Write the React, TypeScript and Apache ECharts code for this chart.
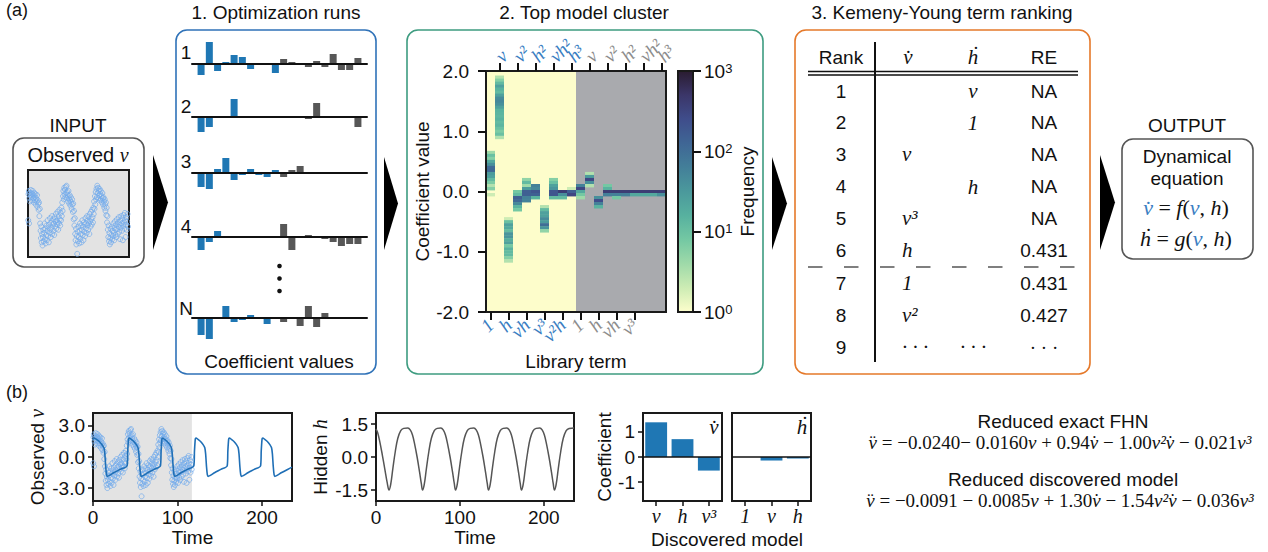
import React, { useEffect, useRef } from 'react';
import * as echarts from 'echarts';

const SANS = '"Liberation Sans", Arial, Helvetica, sans-serif';
const SERIF = '"Liberation Serif", "Times New Roman", serif';
const NB = '\u00a0';
const INK = '#111111';
const BAR_BLUE = '#1f77b4';
const BAR_GRAY = '#575757';
const TERM_BLUE = '#3a7ec2';
const TERM_GRAY = '#8d8d8d';
const PT_BLUE = '#74abeb';
const LINE_BLUE = '#1f6fb6';
const VDOT = 'v\u0307';
const HDOT = '\u1E23';
const VDDOT = 'v\u0308';

// ---------- Panel 1: optimization runs (20 coefficients: 10 for v̇, 10 for ḣ)
const runNames = ['1', '2', '3', '4', 'N'];
const run1 = [-11, 22, -7, 2, 9, 7, -5, 0, 0, -9, 5, 2, 0, -3, 3, -3, 10, -6, -6, 6];
const run2 = [-15, -10, 0, 0, 18, 0, 0, 0, 0, 0, 0, 0, 0, -2, 14, 0, 0, 0, 1, -10];
const run3 = [-14, -16, 4, 15, -7, -2, 4, -2, -4, 3, -4, 3, 7, 0, 0, 0, 0, 0, 0, 0];
const run4 = [-13, -5, 6, 0, 0, 0, 0, 0, 0, 0, 13, -13, 0, 2, 0, -2, -5, -9, -7, -7];
const runN = [-17, -21, 0, 12, -4, -2, 3, 0, -6, 0, -4, 0, -8, 12, -9, 5, 0, 0, 0, 0];

// ---------- Panel 2: top model cluster (coefficient bin centre, frequency)
const libraryTerms = ['1', 'v', 'h', 'v²', 'vh', 'h²', 'v³', 'vh²', 'v²h', 'h³'];
const hmVdot = [
  [[0.65, 4], [0.6, 10], [0.55, 6], [0.5, 20], [0.45, 40], [0.4, 110], [0.35, 120], [0.3, 30], [0.25, 25], [0.2, 12], [0.15, 7], [0.1, 3], [0.05, 6], [-0.05, 2]],
  [[1.9, 3], [1.85, 6], [1.8, 12], [1.75, 25], [1.7, 15], [1.65, 12], [1.6, 25], [1.55, 45], [1.5, 50], [1.45, 40], [1.4, 25], [1.35, 15], [1.3, 14], [1.25, 13], [1.2, 15], [1.15, 12], [1.1, 14], [1.05, 10], [1.0, 7], [0.95, 10], [0.9, 3]],
  [[-0.45, 2], [-0.5, 10], [-0.55, 25], [-0.6, 20], [-0.65, 12], [-0.7, 35], [-0.75, 35], [-0.8, 18], [-0.85, 25], [-0.9, 8], [-0.95, 15], [-1.0, 12], [-1.05, 12], [-1.1, 6], [-1.15, 3]],
  [[0.0, 8], [-0.05, 12], [-0.1, 150], [-0.15, 120], [-0.2, 50], [-0.25, 15], [-0.3, 8]],
  [[0.2, 5], [0.15, 12], [0.1, 4], [0.05, 30], [0.0, 150], [-0.05, 150], [-0.1, 60], [-0.15, 60]],
  [[0.1, 60], [0.05, 50], [0.0, 200], [-0.05, 150], [-0.1, 15]],
  [[-0.25, 3], [-0.3, 12], [-0.35, 25], [-0.4, 25], [-0.45, 45], [-0.5, 30], [-0.55, 100], [-0.6, 35], [-0.65, 5]],
  [[0.2, 6], [0.15, 10], [0.1, 25], [0.05, 35], [0.0, 200], [-0.05, 200], [-0.1, 12]],
  [[0.0, 400], [-0.05, 40], [-0.1, 12]],
  [[0.05, 2], [0.0, 150], [-0.05, 300]],
];
const hmHdot = [
  [[0.1, 60], [0.05, 300], [0.0, 20], [-0.05, 8], [-0.1, 4]],
  [[0.3, 3], [0.25, 30], [0.2, 300], [0.15, 40], [0.1, 3]],
  [[-0.1, 40], [-0.15, 250], [-0.2, 60], [-0.25, 15]],
  [[0.1, 8], [0.05, 15], [0.0, 400], [-0.05, 60]],
  [[0.0, 400], [-0.05, 60], [-0.1, 8]],
  [[0.0, 400], [-0.05, 60]],
  [[0.0, 400], [-0.05, 20]],
  [[0.0, 400], [-0.05, 20]],
  [[0.0, 400], [-0.05, 20]],
  [[0.0, 400], [-0.05, 40]],
];
const BIN = 0.05;
const CMAP = ['#fdfecc', '#cdecb4', '#9fdaa9', '#74c8a3', '#57b19f', '#4b999c', '#437f99', '#3f6695', '#3f4d8b', '#3b3669', '#2a1c30'];

// ---------- Panel 3: Kemeny-Young ranking
const ranks = ['1', '2', '3', '4', '5', '6', '7', '8', '9'];
const DOTS = '·' + NB + '·' + NB + '·';
const rankVdot = ['', '', 'v', '', 'v³', 'h', '1', 'v²', DOTS];
const rankHdot = ['v', '1', '', 'h', '', '', '', '', DOTS];
const rankRE = ['NA', 'NA', 'NA', 'NA', 'NA', '0.431', '0.431', '0.427', DOTS];

// ---------- Panel b: time series
const observedV = [
  [0.3, -0.6], [0.6, 1.9], [1.0, 2.2], [1.2, -0.9], [1.6, 1.5], [2.0, 2.0], [2.4, 1.2], [2.9, 1.8], [3.3, 2.3], [3.8, 1.6], [4.2, 2.0], [4.7, 1.3], [5.1, 1.9], [5.6, 2.2], [6.0, 1.5], [6.5, 1.8], [7.0, 1.1], [7.4, 2.0], [7.9, 1.6], [8.3, 1.3], [8.8, 1.9], [9.2, 0.9], [9.7, 1.5], [10.1, 1.2], [10.6, 1.8], [11.0, 0.7], [11.5, 1.3], [12.0, 1.0], [12.4, 0.4], [12.9, 1.1], [13.3, -0.2], [13.8, 0.5], [14.2, -0.9], [14.7, -1.6], [15.1, -2.3], [15.6, -1.2], [16.0, -2.7], [16.5, -1.9], [17.0, -3.0], [17.4, -2.2], [17.9, -1.5], [18.3, -2.6], [18.8, -1.8], [19.3, -0.9], [19.7, -2.4], [20.2, -1.4], [20.6, -2.8], [21.1, -2.0], [21.5, -1.1], [22.0, -2.5], [22.5, -1.6], [22.9, -0.6], [23.4, -2.1], [23.8, -1.3], [24.3, -2.7], [24.8, -1.0], [25.2, -1.8], [25.7, -0.4], [26.1, -1.5], [26.6, -2.2], [27.1, -0.8], [27.5, -1.3], [28.0, -0.2], [28.4, -1.9], [28.9, -1.0], [29.4, -0.5], [29.8, -1.6], [30.3, -0.9], [30.7, -2.0], [31.2, -0.3], [31.7, -1.2], [32.1, -0.7], [32.6, 0.0], [33.0, -1.4], [33.5, -0.6], [34.0, -1.0], [34.4, 0.2], [34.9, -0.8], [35.3, -1.5], [35.8, -0.2], [36.3, -0.9], [36.7, 0.4], [37.2, -0.5], [37.6, -1.1], [38.1, 0.1], [38.6, -0.6], [39.0, 0.6], [39.5, -0.2],
  [40.0, 1.1], [40.4, 0.3], [40.9, 1.7], [41.3, 2.2], [41.8, 1.4], [42.3, 2.5], [42.7, 1.9], [43.2, 2.3], [43.6, 1.6], [44.1, 2.6], [44.6, 2.0], [45.0, 2.7], [45.5, 1.5], [45.9, 2.1], [46.4, 1.8], [46.9, 1.2], [47.3, 2.2], [47.8, 1.5], [48.2, 1.0], [48.7, 1.8], [49.2, 1.3], [49.6, 0.8], [50.1, 1.6], [50.5, 1.1], [51.0, 0.5], [51.5, 1.4], [51.9, 0.9], [52.4, 0.2], [52.8, 1.0], [53.3, -0.5], [53.8, 0.3], [54.2, -1.1], [54.7, -0.4], [55.1, -1.9], [55.6, -2.5], [56.1, -1.4], [56.5, -2.9], [57.0, -2.1], [57.5, -3.8], [57.9, -1.7], [58.4, -2.6], [58.8, -1.2], [59.3, -2.2], [59.8, -2.8], [60.2, -1.6], [60.7, -0.9], [61.1, -2.4], [61.6, -1.9], [62.1, -1.1], [62.5, -2.7], [63.0, -1.5], [63.4, -0.6], [63.9, -2.0], [64.4, -1.2], [64.8, -2.5], [65.3, -0.8], [65.7, -1.7], [66.2, -1.0], [66.7, -2.1], [67.1, -0.4], [67.6, -1.4], [68.0, -0.9], [68.5, -1.8], [69.0, -0.2], [69.4, -1.1], [69.9, -0.6], [70.3, -1.5], [70.8, -0.3], [71.3, -0.9], [71.7, -1.9], [72.2, 0.0], [72.6, -0.7], [73.1, -1.2], [73.6, 0.2], [74.0, -0.5], [74.5, -1.0], [74.9, 0.4], [75.4, -0.3], [75.9, -0.8], [76.3, 0.6], [76.8, 0.0], [77.2, 1.2], [77.7, 0.5], [78.2, 1.7], [78.6, 0.9], [79.1, 2.1], [79.5, 1.4],
  [80.0, 2.4], [80.4, 1.6], [80.9, 2.7], [81.3, 2.0], [81.8, 2.5], [82.3, 1.5], [82.7, 2.2], [83.2, 1.8], [83.6, 2.4], [84.1, 1.3], [84.6, 1.9], [85.0, 2.2], [85.5, 1.4], [85.9, 1.7], [86.4, 1.1], [86.9, 2.0], [87.3, 1.5], [87.8, 0.9], [88.2, 1.6], [88.7, 1.2], [89.2, 0.6], [89.6, 1.4], [90.1, 0.9], [90.5, 0.3], [91.0, 1.1], [91.5, -0.1], [91.9, 0.6], [92.4, -0.8], [92.8, -0.2], [93.3, -1.5], [93.8, -2.2], [94.2, -1.1], [94.7, -2.6], [95.1, -1.8], [95.6, -2.9], [96.1, -2.3], [96.5, -1.4], [97.0, -2.7], [97.4, -2.0], [97.9, -1.2], [98.4, -2.4], [98.8, -1.6], [99.3, -2.1], [99.7, -0.9], [100.2, -1.8], [100.7, -2.5], [101.1, -1.3], [101.6, -0.7], [102.0, -2.0], [102.5, -1.5], [103.0, -1.0], [103.4, -2.2], [103.9, -0.5], [104.3, -1.4], [104.8, -1.9], [105.3, -0.8], [105.7, -1.2], [106.2, -0.3], [106.6, -1.7], [107.1, -1.0], [107.6, -2.4], [108.0, -0.6], [108.5, -1.3], [108.9, -0.2], [109.4, -0.9], [109.9, -1.6], [110.3, -0.4], [110.8, -2.5], [111.2, -1.1], [111.7, -0.1], [112.2, -0.8], [112.6, -1.4], [113.1, 0.1], [113.5, -0.6], [114.0, -2.2], [114.5, -1.0], [114.9, -0.3], [115.4, -1.5], [115.8, -0.7], [116.3, 0.0], [116.8, -1.2],
];
const fitV = [
  [0, 1.7], [1.5, 1.84], [4, 1.7], [7.5, 1.5], [10.5, 1.2], [13, 0.9], [14, 0.3], [15, -0.9], [16, -1.7], [17, -1.87], [19, -1.8], [25, -1.5], [32, -1.2], [40.3, -0.85],
  [41.1, 0.6], [42.1, 1.75], [42.9, 1.84], [45.3, 1.7], [48.3, 1.5], [51.3, 1.2], [53.3, 0.9], [54.3, 0.3], [55.3, -0.9], [56.3, -1.7], [57.3, -1.87], [59.3, -1.8], [65.3, -1.5], [72.3, -1.2], [79.8, -0.85],
  [80.6, 0.6], [81.6, 1.75], [82.4, 1.84], [84.8, 1.7], [87.8, 1.5], [90.8, 1.2], [92.8, 0.9], [93.8, 0.3], [94.8, -0.9], [95.8, -1.7], [96.8, -1.87], [98.8, -1.8], [104.8, -1.5], [111.8, -1.2], [119.3, -0.85],
  [120.1, 0.6], [121.1, 1.75], [121.9, 1.84], [124.3, 1.7], [127.3, 1.5], [130.3, 1.2], [132.3, 0.9], [133.3, 0.3], [134.3, -0.9], [135.3, -1.7], [136.3, -1.87], [138.3, -1.8], [144.3, -1.5], [151.3, -1.2], [158.8, -0.85],
  [159.6, 0.6], [160.6, 1.75], [161.4, 1.84], [163.8, 1.7], [166.8, 1.5], [169.8, 1.2], [171.8, 0.9], [172.8, 0.3], [173.8, -0.9], [174.8, -1.7], [175.8, -1.87], [177.8, -1.8], [183.8, -1.5], [190.8, -1.2], [198.3, -0.85],
  [199.1, 0.6], [200.1, 1.75], [200.9, 1.84], [203.3, 1.7], [206.3, 1.5], [209.3, 1.2], [211.3, 0.9], [212.3, 0.3], [213.3, -0.9], [214.3, -1.7], [215.3, -1.87], [217.3, -1.8], [223.3, -1.5], [230.3, -1.2], [235.5, -0.98],
];
const hiddenH = [
  [0, 1.28], [2, 1.1], [4.5, 0.7], [7.5, 0.1], [10.5, -0.55], [13.5, -1.2], [15.5, -1.5], [17.5, -1.25], [20, -0.55], [23, 0.25], [26, 0.85], [29.5, 1.2], [33, 1.3],
  [38, 1.32], [41, 1.22], [43.5, 1.0], [46, 0.6], [49, 0.0], [52, -0.7], [54, -1.2], [55.5, -1.5], [57.5, -1.25], [60, -0.55], [63, 0.25], [66, 0.85], [69.5, 1.2], [73, 1.3],
  [77.3, 1.32], [80.3, 1.22], [82.8, 1.0], [85.3, 0.6], [88.3, 0.0], [91.3, -0.7], [93.3, -1.2], [94.8, -1.5], [96.8, -1.25], [99.3, -0.55], [102.3, 0.25], [105.3, 0.85], [108.8, 1.2], [112.3, 1.3],
  [116.6, 1.32], [119.6, 1.22], [122.1, 1.0], [124.6, 0.6], [127.6, 0.0], [130.6, -0.7], [132.6, -1.2], [134.1, -1.5], [136.1, -1.25], [138.6, -0.55], [141.6, 0.25], [144.6, 0.85], [148.1, 1.2], [151.6, 1.3],
  [155.9, 1.32], [158.9, 1.22], [161.4, 1.0], [163.9, 0.6], [166.9, 0.0], [169.9, -0.7], [171.9, -1.2], [173.4, -1.5], [175.4, -1.25], [177.9, -0.55], [180.9, 0.25], [183.9, 0.85], [187.4, 1.2], [190.9, 1.3],
  [195.2, 1.32], [198.2, 1.22], [200.7, 1.0], [203.2, 0.6], [206.2, 0.0], [209.2, -0.7], [211.2, -1.2], [212.7, -1.5], [214.7, -1.25], [217.2, -0.55], [220.2, 0.25], [223.2, 0.85], [226.7, 1.2], [230.2, 1.3], [236, 1.32],
];
const trainingWindow = [0, 117];
const timeTicks = [0, 100, 200];
const vTicks = [-3, 0, 3];
const hTicks = [-1.5, 0, 1.5];
const coefTicks = [-1, 0, 1];
const vdotTerms = ['v', 'h', 'v³'];
const vdotCoefs = [1.38, 0.71, -0.54];
const hdotTerms = ['1', 'v', 'h'];
const hdotCoefs = [0, -0.14, -0.06];

const eqTitles = ['Reduced exact FHN', 'Reduced discovered model'];
const eqExact: [string, string][] = [['i', VDDOT], ['r', ' = −0.0240− 0.0160'], ['i', 'v'], ['r', ' + 0.94'], ['i', VDOT], ['r', ' − 1.00'], ['i', 'v²' + VDOT], ['r', ' − 0.021'], ['i', 'v³']];
const eqDiscovered: [string, string][] = [['i', VDDOT], ['r', ' = −0.0091 − 0.0085'], ['i', 'v'], ['r', ' + 1.30'], ['i', VDOT], ['r', ' − 1.54'], ['i', 'v²' + VDOT], ['r', ' − 0.036'], ['i', 'v³']];

// ---------- helpers
function rich(tokens: [string, string][]) {
  return tokens.map(([k, t]) => `{${k}|${t.replace(/ /g, NB)}}`).join('');
}
function mathRich(size: number) {
  return {
    r: { fontFamily: SERIF, fontSize: size, fill: INK, color: INK },
    i: { fontFamily: SERIF, fontStyle: 'italic', fontSize: size, fill: INK, color: INK },
    b: { fontFamily: SERIF, fontStyle: 'italic', fontSize: size, fill: TERM_BLUE, color: TERM_BLUE },
    s: { fontFamily: SANS, fontSize: size, fill: INK, color: INK },
  };
}
function txt(x: number, y: number, text: string, o: any = {}) {
  const align = o.align || 'center';
  return {
    type: 'text', x, y, silent: true, z: 10, rotation: o.rotation || 0,
    style: {
      text, fontFamily: o.family || SANS, fontSize: o.size || 19, fontStyle: o.style || 'normal',
      fill: o.color || INK, align, textAlign: align, verticalAlign: 'middle', textVerticalAlign: 'middle',
      rich: o.rich,
    },
  };
}
function box(x: number, y: number, w: number, h: number, color: string) {
  return { type: 'rect', silent: true, shape: { x, y, width: w, height: h, r: 11 }, style: { fill: 'none', stroke: color, lineWidth: 1.6 } };
}
function arrow(x: number, y0: number, y1: number, tip: number) {
  return { type: 'polygon', silent: true, shape: { points: [[x, y0], [tip, (y0 + y1) / 2], [x, y1]] }, style: { fill: '#000' } };
}
function hline(x1: number, x2: number, y: number, o: any = {}) {
  return { type: 'line', silent: true, shape: { x1, y1: y, x2, y2: y }, style: { stroke: o.color || INK, lineWidth: o.width || 1.5, lineDash: o.dash } };
}

const tickLine = { color: INK, width: 1.5 };
const sansLabel = { fontFamily: SANS, fontSize: 19, color: INK };
const noLine = { show: false, onZero: false };

// heatmap plot geometry
const HM = { left: 486, top: 71, width: 180, height: 241 };

function buildOption() {
  const grid: any[] = [];
  const xAxis: any[] = [];
  const yAxis: any[] = [];
  const series: any[] = [];

  // ---- runs
  const runRows = [run1, run2, run3, run4, runN];
  const runBase = [64, 117, 173, 237, 318];
  runRows.forEach((vals, i) => {
    grid.push({ left: 192, top: runBase[i] - 25, width: 175, height: 50 });
    xAxis.push({
      gridIndex: i, type: 'value', min: -1.1, max: 20.1, z: 5,
      axisLine: { show: true, onZero: true, lineStyle: { color: INK, width: 2 } },
      axisTick: { show: false }, axisLabel: { show: false }, splitLine: { show: false },
    });
    yAxis.push({ gridIndex: i, type: 'value', min: -25, max: 25, show: false, splitLine: { show: false } });
    series.push({
      type: 'bar', xAxisIndex: i, yAxisIndex: i, barWidth: 7, silent: true,
      data: vals.map((v, j) => ({ value: [j, v], itemStyle: { color: j < 10 ? BAR_BLUE : BAR_GRAY } })),
    });
  });

  // ---- heatmap (grid 5)
  const hmColumns = [...hmVdot, ...hmHdot];
  const catIds = hmColumns.map((_, i) => String(i));
  grid.push({ ...HM, show: true, borderColor: '#1a1a1a', borderWidth: 2 });
  const termRich = {
    b: { fontFamily: SERIF, fontStyle: 'italic', fontSize: 19, color: TERM_BLUE },
    g: { fontFamily: SERIF, fontStyle: 'italic', fontSize: 19, color: TERM_GRAY },
  };
  const termFmt = (val: string) => {
    const i = Number(val);
    return `{${i < 10 ? 'b' : 'g'}|${libraryTerms[i % 10]}}`;
  };
  xAxis.push({
    gridIndex: 5, type: 'category', data: catIds, position: 'bottom',
    axisLine: noLine,
    axisTick: { show: true, alignWithLabel: true, length: 8, interval: (i: number) => i % 2 === 0, lineStyle: { color: INK, width: 2 } },
    axisLabel: { interval: (i: number) => i % 2 === 0, rotate: 45, margin: 10, formatter: termFmt, rich: termRich },
    name: 'Library term', nameLocation: 'middle', nameGap: 40,
    nameTextStyle: { fontFamily: SANS, fontSize: 19, color: INK },
  });
  xAxis.push({
    gridIndex: 5, type: 'category', data: catIds, position: 'top',
    axisLine: noLine,
    axisTick: { show: true, alignWithLabel: true, length: 8, interval: (i: number) => i % 2 === 1, lineStyle: { color: INK, width: 2 } },
    axisLabel: { show: false },
  });
  yAxis.push({
    gridIndex: 5, type: 'value', min: -2, max: 2, interval: 1,
    axisLine: noLine, splitLine: { show: false },
    axisTick: { show: true, length: 8, lineStyle: { color: INK, width: 2 } },
    axisLabel: { ...sansLabel, fontSize: 19, margin: 17, formatter: (v: number) => v.toFixed(1) },
    name: 'Coefficient value', nameLocation: 'middle', nameGap: 53, nameRotate: 90,
    nameTextStyle: { fontFamily: SANS, fontSize: 19, color: INK },
  });
  series.push({
    type: 'custom', xAxisIndex: 5, yAxisIndex: 5, z: -2, silent: true,
    encode: { x: [0, 1], y: [2, 3] },
    data: [[0, 9, -2, 2, 0], [10, 19, -2, 2, 1]],
    renderItem: (_p: any, api: any) => {
      const w = api.size([1, 0])[0];
      const a = api.coord([api.value(0), api.value(3)]);
      const b = api.coord([api.value(1), api.value(2)]);
      return { type: 'rect', shape: { x: a[0] - w / 2, y: a[1], width: b[0] - a[0] + w, height: b[1] - a[1] }, style: { fill: api.value(4) === 0 ? '#fdfdcb' : '#a9aaae' } };
    },
  });
  const hmIndex = series.length;
  series.push({
    type: 'custom', xAxisIndex: 5, yAxisIndex: 5, z: -1, silent: true,
    encode: { x: 0, y: 1 },
    data: hmColumns.flatMap((col, ci) => col.map(([c, f]) => [ci, c, f, Math.log10(f)])),
    renderItem: (_p: any, api: any) => {
      const c = api.coord([api.value(0), api.value(1)]);
      const w = api.size([1, 0])[0];
      const h = api.size([0, BIN])[1];
      return { type: 'rect', shape: { x: c[0] - w / 2, y: c[1] - h / 2, width: w, height: h + 0.4 }, style: { fill: api.visual('color') } };
    },
  });

  // ---- colorbar (grid 6)
  grid.push({ left: 678, top: 71, width: 15, height: 241, show: true, borderColor: '#1a1a1a', borderWidth: 2 });
  xAxis.push({ gridIndex: 6, type: 'category', data: ['f'], show: false });
  yAxis.push({
    gridIndex: 6, type: 'log', min: 1, max: 1000, logBase: 10, position: 'right',
    axisLine: noLine, splitLine: { show: false },
    axisTick: { show: true, length: 8, lineStyle: { color: INK, width: 2 } },
    axisLabel: {
      ...sansLabel, margin: 11,
      formatter: (v: number) => `10{e|${Math.round(Math.log10(v))}}`,
      rich: { e: { fontFamily: SANS, fontSize: 13, color: INK, verticalAlign: 'top', padding: [0, 0, 6, 0] } },
    },
    name: 'Frequency', nameLocation: 'middle', nameGap: 45, nameRotate: 90,
    nameTextStyle: { fontFamily: SANS, fontSize: 19, color: INK },
  });
  series.push({
    type: 'custom', xAxisIndex: 7, yAxisIndex: 6, z: -1, silent: true,
    encode: { x: 0, y: [1, 2] },
    data: [[0, 1, 1000]],
    renderItem: (_p: any, api: any) => {
      const top = api.coord([0, api.value(2)]);
      const bot = api.coord([0, api.value(1)]);
      const w = api.size([1, 0])[0];
      return {
        type: 'rect', shape: { x: top[0] - w / 2, y: top[1], width: w, height: bot[1] - top[1] },
        style: { fill: { type: 'linear', x: 0, y: 1, x2: 0, y2: 0, colorStops: CMAP.map((col, i) => ({ offset: i / (CMAP.length - 1), color: col })) } },
      };
    },
  });

  // ---- INPUT thumbnail (grid 7)
  grid.push({ left: 28, top: 170, width: 101, height: 87, show: true, backgroundColor: '#e3e3e3', borderColor: '#1a1a1a', borderWidth: 2 });
  xAxis.push({ gridIndex: 7, type: 'value', min: 0, max: 118, show: false });
  yAxis.push({ gridIndex: 7, type: 'value', min: -4.1, max: 4.2, show: false, splitLine: { show: false } });
  series.push({
    type: 'scatter', xAxisIndex: 8, yAxisIndex: 7, silent: true, symbol: 'circle', symbolSize: 5,
    itemStyle: { color: 'rgba(0,0,0,0)', borderColor: PT_BLUE, borderWidth: 0.9 }, data: observedV,
  });

  // ---- observed v (grid 8)
  const timeAxis = (gi: number, max: number) => ({
    gridIndex: gi, type: 'value', min: 0, max,
    axisLine: noLine, splitLine: { show: false },
    axisTick: { show: true, length: 5, lineStyle: tickLine, customValues: timeTicks },
    axisLabel: { ...sansLabel, margin: 7, customValues: timeTicks },
    name: 'Time', nameLocation: 'middle', nameGap: 26,
    nameTextStyle: { fontFamily: SANS, fontSize: 19, color: INK },
  });
  const valAxis = (gi: number, lim: number, ticks: number[], fmt: any, name: any, gap: number) => ({
    gridIndex: gi, type: 'value', min: -lim, max: lim,
    axisLine: noLine, splitLine: { show: false },
    axisTick: { show: true, length: 5, lineStyle: tickLine, customValues: ticks },
    axisLabel: { ...sansLabel, margin: 8, customValues: ticks, formatter: fmt },
    name, nameLocation: 'middle', nameGap: gap, nameRotate: 90,
    nameTextStyle: { fontFamily: SANS, fontSize: 19, color: INK, rich: { s: { fontFamily: SANS, fontSize: 19, color: INK }, m: { fontFamily: SERIF, fontStyle: 'italic', fontSize: 20, color: INK } } },
  });
  grid.push({ left: 93, top: 413, width: 199, height: 88, show: true, borderColor: '#1a1a1a', borderWidth: 2 });
  xAxis.push(timeAxis(8, 235.5));
  yAxis.push(valAxis(8, 4.25, vTicks, (v: number) => v.toFixed(1), `{s|Observed${NB}}{m|v}`, 46));
  series.push({
    type: 'custom', xAxisIndex: 9, yAxisIndex: 8, z: -2, silent: true,
    encode: { x: [0, 1], y: [2, 3] },
    data: [[trainingWindow[0], trainingWindow[1], -4.25, 4.25]],
    renderItem: (_p: any, api: any) => {
      const a = api.coord([api.value(0), api.value(3)]);
      const b = api.coord([api.value(1), api.value(2)]);
      return { type: 'rect', shape: { x: a[0], y: a[1], width: b[0] - a[0], height: b[1] - a[1] }, style: { fill: '#e3e3e3' } };
    },
  });
  series.push({
    type: 'scatter', xAxisIndex: 9, yAxisIndex: 8, silent: true, symbol: 'circle', symbolSize: 5,
    itemStyle: { color: 'rgba(0,0,0,0)', borderColor: PT_BLUE, borderWidth: 0.9 }, data: observedV,
  });
  series.push({
    type: 'line', xAxisIndex: 9, yAxisIndex: 8, silent: true, showSymbol: false, smooth: 0.25,
    lineStyle: { color: LINE_BLUE, width: 1.6 }, data: fitV,
  });

  // ---- hidden h (grid 9)
  grid.push({ left: 376, top: 413, width: 198, height: 88, show: true, borderColor: '#1a1a1a', borderWidth: 2 });
  xAxis.push(timeAxis(9, 236));
  yAxis.push(valAxis(9, 2, hTicks, (v: number) => v.toFixed(1), `{s|Hidden${NB}}{m|h}`, 46));
  series.push({
    type: 'line', xAxisIndex: 10, yAxisIndex: 9, silent: true, showSymbol: false, smooth: 0.4,
    lineStyle: { color: '#555555', width: 1.5 }, data: hiddenH,
  });

  // ---- discovered model bars (grids 10, 11)
  const termAxis = (gi: number, terms: string[]) => ({
    gridIndex: gi, type: 'category', data: terms,
    axisLine: noLine,
    axisTick: { show: true, alignWithLabel: true, length: 5, lineStyle: tickLine },
    axisLabel: { fontFamily: SERIF, fontStyle: 'italic', fontSize: 20, color: INK, margin: 5, lineHeight: 20 },
  });
  grid.push({ left: 643, top: 413, width: 79, height: 88, show: true, borderColor: '#1a1a1a', borderWidth: 2 });
  grid.push({ left: 732, top: 413, width: 79, height: 88, show: true, borderColor: '#1a1a1a', borderWidth: 2 });
  xAxis.push(termAxis(10, vdotTerms));
  xAxis.push(termAxis(11, hdotTerms));
  yAxis.push(valAxis(10, 1.75, coefTicks, (v: number) => String(v), 'Coefficient', 27));
  yAxis.push({ gridIndex: 11, type: 'value', min: -1.75, max: 1.75, axisLine: noLine, axisTick: { show: false }, axisLabel: { show: false }, splitLine: { show: false } });
  const zeroLine = { silent: true, symbol: 'none', label: { show: false }, lineStyle: { color: INK, width: 1.5, type: 'solid' }, data: [{ yAxis: 0 }] };
  series.push({ type: 'bar', xAxisIndex: 11, yAxisIndex: 10, silent: true, barCategoryGap: '17%', itemStyle: { color: BAR_BLUE }, data: vdotCoefs, markLine: zeroLine });
  series.push({ type: 'bar', xAxisIndex: 12, yAxisIndex: 11, silent: true, barCategoryGap: '17%', itemStyle: { color: BAR_BLUE }, data: hdotCoefs, markLine: zeroLine });

  // ---- graphics
  const g: any[] = [];
  g.push(txt(6, 10, '(a)', { align: 'left', size: 18 }));
  g.push(txt(6, 392, '(b)', { align: 'left', size: 18 }));
  g.push(txt(276, 12, '1. Optimization runs'));
  g.push(txt(584, 12, '2. Top model cluster'));
  g.push(txt(942, 12, '3. Kemeny-Young term ranking'));

  // top-axis library term labels of the heatmap (odd columns), rotated 45°
  const colW = HM.width / hmColumns.length;
  hmColumns.forEach((_, i) => {
    if (i % 2 === 1) {
      g.push(txt(HM.left + colW * (i + 0.5) - 1, HM.top - 12, libraryTerms[i % 10], {
        family: SERIF, style: 'italic', size: 19, align: 'left', rotation: Math.PI / 4,
        color: i < 10 ? TERM_BLUE : TERM_GRAY,
      }));
    }
  });

  // input
  g.push(txt(78, 125, 'INPUT'));
  g.push(box(13, 138, 131, 129, '#555555'));
  g.push(txt(78, 155, `{s|Observed${NB}}{i|v}`, { rich: mathRich(20) }));
  g.push(arrow(153, 155, 250, 168));

  // runs
  g.push(box(176, 30, 200, 344, '#2f72b8'));
  runNames.forEach((n, i) => g.push(txt(186, [52, 106, 161, 226, 308][i], n)));
  [266, 278.5, 291].forEach((y) => g.push({ type: 'circle', silent: true, shape: { cx: 279.5, cy: y, r: 2.3 }, style: { fill: INK } }));
  g.push(txt(279, 361, 'Coefficient values'));
  g.push(arrow(384, 157, 250, 398));

  // heatmap panel
  g.push(box(407, 30, 356, 344, '#3e9c80'));
  g.push(arrow(772, 157, 250, 787));

  // ranking table
  g.push(box(795, 30, 295, 344, '#e5792a'));
  g.push(txt(841, 57, 'Rank'));
  g.push(txt(908, 57, VDOT, { family: SERIF, style: 'italic', size: 21 }));
  g.push(txt(973, 57, HDOT, { family: SERIF, style: 'italic', size: 21 }));
  g.push(txt(1044, 57, 'RE'));
  g.push(hline(808, 1078, 71.5, { width: 1.5 }));
  g.push(hline(808, 1078, 75, { width: 1.5 }));
  g.push({ type: 'line', silent: true, shape: { x1: 875, y1: 42, x2: 875, y2: 362 }, style: { stroke: INK, lineWidth: 2 } });
  g.push(hline(808, 1078, 267, { color: '#555555', width: 1.5, dash: [14.5, 21.5] }));
  const rowY = [91, 122.5, 154, 186.5, 218, 250, 283, 315, 347];
  ranks.forEach((r, i) => {
    g.push(txt(841, rowY[i], r));
    if (rankVdot[i]) g.push(txt(902, rowY[i], rankVdot[i], { family: SERIF, style: 'italic', size: 21, align: 'left' }));
    if (rankHdot[i]) g.push(txt(973, rowY[i], rankHdot[i], { family: SERIF, style: 'italic', size: 21 }));
    g.push(txt(1044, rowY[i], rankRE[i], rankRE[i] === DOTS ? { family: SERIF } : {}));
  });
  g.push(arrow(1100, 155, 250, 1115));

  // output
  g.push(txt(1187, 125, 'OUTPUT'));
  g.push(box(1122, 139, 131, 120, '#555555'));
  g.push(txt(1187, 156, 'Dynamical'));
  g.push(txt(1187, 178, 'equation'));
  g.push(txt(1186, 207, rich([['b', VDOT], ['r', ' = '], ['i', 'f'], ['r', '('], ['b', 'v'], ['r', ', '], ['i', 'h'], ['r', ')']]), { rich: mathRich(22) }));
  g.push(txt(1186, 238, rich([['i', HDOT], ['r', ' = '], ['i', 'g'], ['r', '('], ['b', 'v'], ['r', ', '], ['i', 'h'], ['r', ')']]), { rich: mathRich(22) }));

  // bar-panel labels
  g.push(txt(714, 427, VDOT, { family: SERIF, style: 'italic', size: 21 }));
  g.push(txt(802, 427, HDOT, { family: SERIF, style: 'italic', size: 21 }));
  g.push(txt(727, 539, 'Discovered model'));

  // equations
  g.push(txt(1063, 421, eqTitles[0]));
  g.push(txt(1060, 442, rich(eqExact), { rich: mathRich(19) }));
  g.push(txt(1063, 479, eqTitles[1]));
  g.push(txt(1060, 500, rich(eqDiscovered), { rich: mathRich(19) }));

  return {
    backgroundColor: '#ffffff',
    animation: false,
    textStyle: { fontFamily: SANS },
    grid, xAxis, yAxis, series,
    visualMap: [{ type: 'continuous', show: false, seriesIndex: hmIndex, dimension: 3, min: 0, max: 3, inRange: { color: CMAP } }],
    graphic: { elements: g },
  };
}

export default function App() {
  const ref = useRef<HTMLDivElement>(null);
  useEffect(() => {
    const chart = echarts.init(ref.current as HTMLDivElement, null, { renderer: 'svg' });
    chart.setOption(buildOption() as any);
    return () => chart.dispose();
  }, []);
  return <div ref={ref} style={{ position: 'absolute', left: 0, top: 0, width: 1268, height: 552 }} />;
}
